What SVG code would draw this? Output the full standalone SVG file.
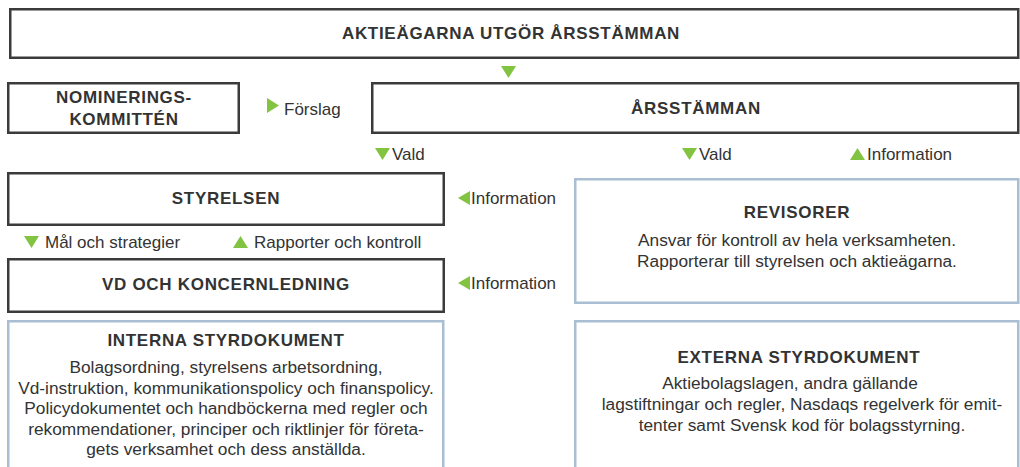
<svg xmlns="http://www.w3.org/2000/svg" width="1020" height="467" viewBox="0 0 1020 467">
<style>
.dark{fill:#fff;stroke:#3b3b3b;stroke-width:2.5}
.blue{fill:#fff;stroke:#a9bed3;stroke-width:2.5}
.t{font-family:"Liberation Sans",Arial,sans-serif;font-weight:bold;font-size:17px;letter-spacing:0.7px;fill:#333;text-anchor:middle}
.b{font-family:"Liberation Sans",Arial,sans-serif;font-size:17.3px;fill:#333;text-anchor:middle}
.l{font-family:"Liberation Sans",Arial,sans-serif;font-size:17px;fill:#333}
.g{fill:#82c341}
</style>
<rect width="1020" height="467" fill="#fff"/>
<g id="aktieagarna">
<rect class="dark" x="10.25" y="9.25" width="1008" height="48.5"/>
<text class="t" x="511" y="39">AKTIEÄGARNA UTGÖR ÅRSSTÄMMAN</text>
</g>
<g id="nomineringskommitten">
<rect class="dark" x="8.25" y="83.25" width="230.5" height="49.5"/>
<text class="t" x="124" y="103">NOMINERINGS-</text>
<text class="t" x="124" y="125">KOMMITTÉN</text>
</g>
<g id="arsstamman">
<rect class="dark" x="372.25" y="83.25" width="646" height="49.5"/>
<text class="t" x="696" y="114">ÅRSSTÄMMAN</text>
</g>
<g id="styrelsen">
<rect class="dark" x="8.25" y="173.25" width="435.5" height="51.5"/>
<text class="t" x="226" y="204">STYRELSEN</text>
</g>
<g id="vd">
<rect class="dark" x="8.25" y="259.25" width="435.5" height="52.5"/>
<text class="t" x="226" y="290">VD OCH KONCERNLEDNING</text>
</g>
<g id="revisorer">
<rect class="blue" x="575.25" y="179.25" width="443" height="123.5"/>
<text class="t" x="797" y="218">REVISORER</text>
<text class="b" x="797" y="246">Ansvar för kontroll av hela verksamheten.</text>
<text class="b" x="797" y="267">Rapporterar till styrelsen och aktieägarna.</text>
</g>
<g id="interna">
<rect class="blue" x="8.25" y="321.25" width="435" height="160"/>
<text class="t" x="226" y="346">INTERNA STYRDOKUMENT</text>
<text class="b" x="226" y="373">Bolagsordning, styrelsens arbetsordning,</text>
<text class="b" x="226" y="393.5">Vd-instruktion, kommunikationspolicy och finanspolicy.</text>
<text class="b" x="226" y="414">Policydokumentet och handböckerna med regler och</text>
<text class="b" x="226" y="434.5">rekommendationer, principer och riktlinjer för företa-</text>
<text class="b" x="226" y="455">gets verksamhet och dess anställda.</text>
</g>
<g id="externa">
<rect class="blue" x="575.25" y="321.25" width="443" height="160"/>
<text class="t" x="799" y="363">EXTERNA STYRDOKUMENT</text>
<text class="b" x="790" y="389">Aktiebolagslagen, andra gällande</text>
<text class="b" x="802" y="410">lagstiftningar och regler, Nasdaqs regelverk för emit-</text>
<text class="b" x="802" y="431">tenter samt Svensk kod för bolagsstyrning.</text>
</g>
<g id="connectors">
<polygon class="g" points="501,66 516,66 508.5,78"/>
<polygon class="g" points="267,98 279,105.5 267,113"/>
<text class="l" x="284" y="115">Förslag</text>
<polygon class="g" points="375,148 390,148 382.5,160"/>
<text class="l" x="392" y="160">Vald</text>
<polygon class="g" points="682,148 697,148 689.5,160"/>
<text class="l" x="699" y="160">Vald</text>
<polygon class="g" points="850,160 865,160 857.5,148"/>
<text class="l" x="867" y="160">Information</text>
<polygon class="g" points="470,191 458,198 470,205"/>
<text class="l" x="471" y="204">Information</text>
<polygon class="g" points="24,236 39,236 31.5,248"/>
<text class="l" x="45" y="248">Mål och strategier</text>
<polygon class="g" points="233,248 248,248 240.5,236"/>
<text class="l" x="254" y="248">Rapporter och kontroll</text>
<polygon class="g" points="470,276 458,283 470,290"/>
<text class="l" x="471" y="289">Information</text>
</g>
</svg>
